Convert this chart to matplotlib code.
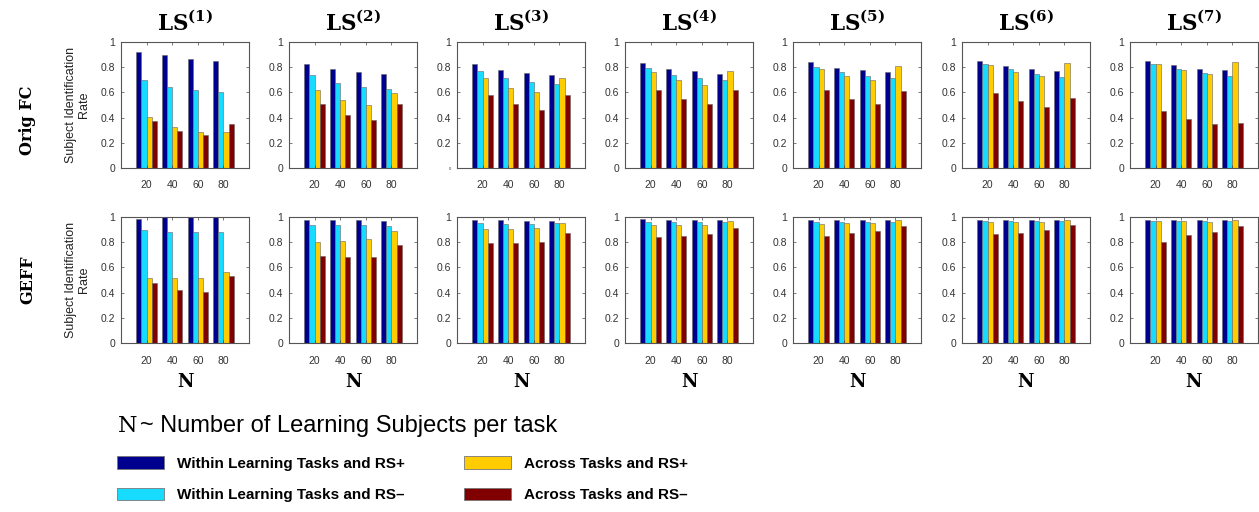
import numpy as np
import matplotlib
matplotlib.use("Agg")
from matplotlib import pyplot as plt
from matplotlib.patches import Patch

plt.rcParams['font.family'] = ['Liberation Sans', 'DejaVu Sans']
plt.rcParams['mathtext.fontset'] = 'dejavuserif'

# Number of learning subjects per task
n_subjects = [20, 40, 60, 80]
panel_titles = [r'$\mathbf{LS^{(%d)}}$' % k for k in range(1, 8)]
row_labels = ["Orig FC", "GEFF"]
series_labels = ["Within Learning Tasks and RS+", "Within Learning Tasks and RS\u2013",
                 "Across Tasks and RS+", "Across Tasks and RS\u2013"]
series_colors = ["#00008F", "#18DCFF", "#FFCC00", "#800000"]

# Orig FC: per panel, per series (within+, within-, across+, across-), values at N=20,40,60,80
orig_within_pos = [[0.918, 0.895, 0.866, 0.850], [0.829, 0.784, 0.763, 0.745],
                   [0.826, 0.779, 0.753, 0.737], [0.834, 0.789, 0.766, 0.747],
                   [0.842, 0.797, 0.774, 0.758], [0.850, 0.813, 0.787, 0.768],
                   [0.850, 0.818, 0.789, 0.779]]
orig_within_neg = [[0.695, 0.645, 0.618, 0.600], [0.742, 0.676, 0.645, 0.630],
                   [0.766, 0.713, 0.684, 0.663], [0.792, 0.742, 0.711, 0.695],
                   [0.803, 0.761, 0.732, 0.711], [0.829, 0.782, 0.750, 0.726],
                   [0.829, 0.789, 0.755, 0.734]]
orig_across_pos = [[0.405, 0.329, 0.289, 0.284], [0.618, 0.542, 0.503, 0.595],
                   [0.711, 0.637, 0.605, 0.711], [0.761, 0.695, 0.661, 0.771],
                   [0.787, 0.734, 0.700, 0.811], [0.816, 0.763, 0.732, 0.832],
                   [0.826, 0.779, 0.745, 0.845]]
orig_across_neg = [[0.371, 0.295, 0.258, 0.347], [0.511, 0.424, 0.380, 0.505],
                   [0.579, 0.505, 0.463, 0.582], [0.618, 0.545, 0.505, 0.616],
                   [0.618, 0.550, 0.508, 0.611], [0.595, 0.532, 0.484, 0.558],
                   [0.455, 0.387, 0.347, 0.355]]

# GEFF
geff_within_pos = [[0.982, 1.000, 1.000, 1.000], [0.974, 0.974, 0.974, 0.970],
                   [0.977, 0.974, 0.971, 0.971], [0.982, 0.977, 0.974, 0.974],
                   [0.979, 0.979, 0.979, 0.979], [0.980, 0.979, 0.979, 0.979],
                   [0.980, 0.980, 0.980, 0.980]]
geff_within_neg = [[0.894, 0.878, 0.878, 0.878], [0.935, 0.935, 0.935, 0.930],
                   [0.953, 0.948, 0.948, 0.953], [0.964, 0.964, 0.958, 0.958],
                   [0.963, 0.963, 0.963, 0.963], [0.970, 0.968, 0.968, 0.966],
                   [0.970, 0.970, 0.970, 0.970]]
geff_across_pos = [[0.519, 0.519, 0.512, 0.564], [0.803, 0.813, 0.823, 0.885],
                   [0.901, 0.906, 0.909, 0.953], [0.940, 0.940, 0.940, 0.966],
                   [0.947, 0.955, 0.955, 0.974], [0.963, 0.960, 0.963, 0.979],
                   [0.965, 0.965, 0.962, 0.978]]
geff_across_neg = [[0.478, 0.421, 0.408, 0.535], [0.688, 0.681, 0.680, 0.780],
                   [0.790, 0.792, 0.803, 0.875], [0.842, 0.852, 0.862, 0.909],
                   [0.853, 0.871, 0.889, 0.932], [0.866, 0.876, 0.900, 0.934],
                   [0.800, 0.855, 0.880, 0.930]]

rows = [[orig_within_pos, orig_within_neg, orig_across_pos, orig_across_neg],
        [geff_within_pos, geff_within_neg, geff_across_pos, geff_across_neg]]

W, H = 1259, 512
fig = plt.figure(figsize=(W / 100, H / 100), dpi=100)

# panel placement in pixels
lefts = [121, 289, 457, 625, 793, 962, 1130]
pw = 128
row_top = [42, 217]
ph = 126

bar_w = 4.0
offsets = (np.arange(4) - 1.5) * bar_w
x = np.array(n_subjects)

for r in range(2):
    for p in range(7):
        ax = fig.add_axes([lefts[p] / W, 1 - (row_top[r] + ph) / H, pw / W, ph / H])
        for s in range(4):
            ax.bar(x + offsets[s], rows[r][s][p], width=bar_w, color=series_colors[s],
                   edgecolor="#666666", linewidth=0.4)
        ax.set_xlim(0, 100)
        ax.set_ylim(0, 1)
        ax.set_xticks(n_subjects)
        ax.set_yticks([0, 0.2, 0.4, 0.6, 0.8, 1])
        ax.set_yticklabels(["0", "0.2", "0.4", "0.6", "0.8", "1"])
        ax.tick_params(direction="in", length=2, width=0.5, labelsize=7.5,
                       labelcolor="#333333", color="#444444", top=True, right=True, pad=4)
        ax.tick_params(axis="x", pad=9)
        for sp in ax.spines.values():
            sp.set_color("#555555")
            sp.set_linewidth(0.8)
        if r == 0 and p == 2:
            ax.get_yticklabels()[0].set_fontsize(3)
        if p == 0:
            ax.set_ylabel("Subject Identification\nRate", fontsize=9, color="#222222",
                          labelpad=8, linespacing=1.1)
        if r == 0:
            ax.set_title(panel_titles[p], fontsize=15.5, pad=9)
        else:
            fig.text((lefts[p] + pw / 2) / W, 1 - 382 / H, "N", family="DejaVu Serif",
                     fontweight="bold", fontsize=13, ha="center", va="center")

# row labels
fig.text(28 / W, 1 - 120 / H, row_labels[0], family="DejaVu Serif", fontweight="bold",
         fontsize=11.5, rotation=90, ha="center", va="center")
fig.text(28 / W, 1 - 280 / H, row_labels[1], family="DejaVu Serif", fontweight="bold",
         fontsize=11.5, rotation=90, ha="center", va="center")

# legend title
fig.text(118 / W, 1 - 426 / H, "N", family="DejaVu Serif", fontsize=16, va="center")
fig.text(140 / W, 1 - 426 / H, "~ Number of Learning Subjects per task", fontsize=17,
         va="center")

handles = [Patch(facecolor=c, edgecolor="#777777", linewidth=0.6) for c in series_colors]
fig.legend(handles, series_labels, ncol=2, loc="upper left",
           bbox_to_anchor=(117 / W, 1 - 456 / H), frameon=False, borderpad=0,
           borderaxespad=0, handlelength=3.1, handleheight=0.92, handletextpad=0.8,
           labelspacing=1.1, columnspacing=3.9,
           prop={"weight": "bold", "size": 11, "family": "Liberation Sans"})

plt.savefig("out.png", dpi=100)
